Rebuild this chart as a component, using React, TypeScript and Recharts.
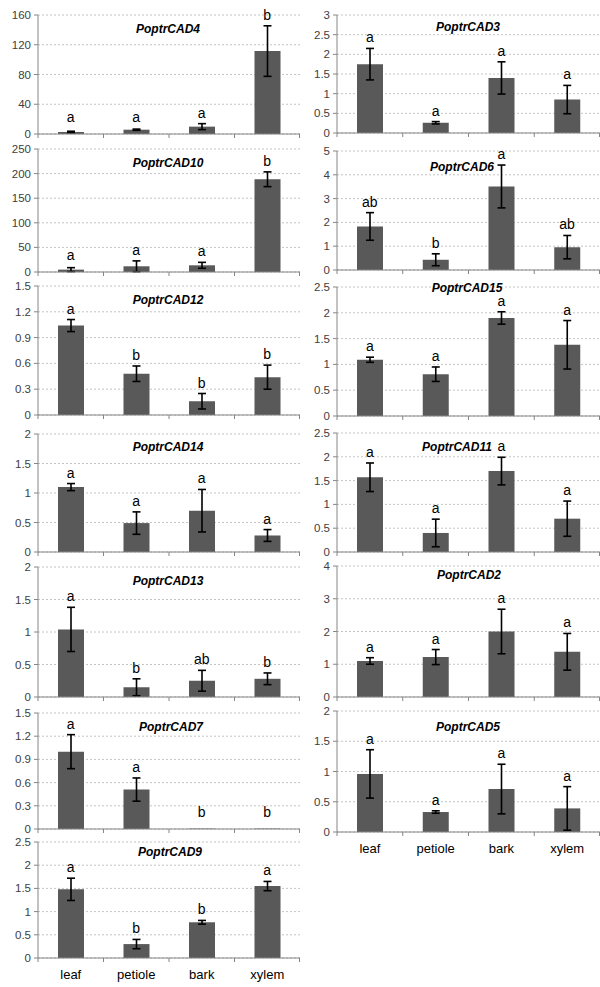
import {
  ComposedChart,
  Bar,
  Line,
  XAxis,
  YAxis,
  CartesianGrid,
  ErrorBar,
  LabelList,
} from "recharts";

const categories = ["leaf", "petiole", "bark", "xylem"];

const cad4Values = [2.7, 5.8, 9.9, 111.5];
const cad4Errors = [1, 0.8, 4, 34];
const cad4Letters = ["a", "a", "a", "b"];
const cad4Ticks = [0, 40, 80, 120, 160];

const cad10Values = [4.8, 11.6, 13.6, 188.5];
const cad10Errors = [4, 11, 6, 15];
const cad10Letters = ["a", "a", "a", "b"];
const cad10Ticks = [0, 50, 100, 150, 200, 250];

const cad12Values = [1.04, 0.48, 0.16, 0.44];
const cad12Errors = [0.07, 0.09, 0.09, 0.14];
const cad12Letters = ["a", "b", "b", "b"];
const cad12Ticks = [0, 0.3, 0.6, 0.9, 1.2, 1.5];

const cad14Values = [1.1, 0.49, 0.7, 0.28];
const cad14Errors = [0.06, 0.19, 0.36, 0.1];
const cad14Letters = ["a", "a", "a", "a"];
const cad14Ticks = [0, 0.5, 1, 1.5, 2];

const cad13Values = [1.04, 0.15, 0.25, 0.28];
const cad13Errors = [0.34, 0.13, 0.16, 0.09];
const cad13Letters = ["a", "b", "ab", "b"];
const cad13Ticks = [0, 0.5, 1, 1.5, 2];

const cad7Values = [1.0, 0.51, 0.005, 0.005];
const cad7Errors = [0.22, 0.15, 0, 0];
const cad7Letters = ["a", "a", "b", "b"];
const cad7Ticks = [0, 0.3, 0.6, 0.9, 1.2, 1.5];

const cad9Values = [1.48, 0.3, 0.77, 1.55];
const cad9Errors = [0.24, 0.1, 0.04, 0.1];
const cad9Letters = ["a", "b", "b", "a"];
const cad9Ticks = [0, 0.5, 1, 1.5, 2, 2.5];

const cad3Values = [1.75, 0.26, 1.4, 0.85];
const cad3Errors = [0.4, 0.03, 0.41, 0.36];
const cad3Letters = ["a", "a", "a", "a"];
const cad3Ticks = [0, 0.5, 1, 1.5, 2, 2.5, 3];

const cad6Values = [1.83, 0.43, 3.51, 0.96];
const cad6Errors = [0.58, 0.25, 0.9, 0.49];
const cad6Letters = ["ab", "b", "a", "ab"];
const cad6Ticks = [0, 1, 2, 3, 4, 5];

const cad15Values = [1.09, 0.81, 1.9, 1.38];
const cad15Errors = [0.05, 0.14, 0.12, 0.47];
const cad15Letters = ["a", "a", "a", "a"];
const cad15Ticks = [0, 0.5, 1, 1.5, 2, 2.5];

const cad11Values = [1.57, 0.4, 1.7, 0.7];
const cad11Errors = [0.3, 0.29, 0.29, 0.37];
const cad11Letters = ["a", "a", "a", "a"];
const cad11Ticks = [0, 0.5, 1, 1.5, 2, 2.5];

const cad2Values = [1.1, 1.22, 2.0, 1.38];
const cad2Errors = [0.1, 0.23, 0.68, 0.56];
const cad2Letters = ["a", "a", "a", "a"];
const cad2Ticks = [0, 1, 2, 3, 4];

const cad5Values = [0.96, 0.33, 0.71, 0.39];
const cad5Errors = [0.4, 0.02, 0.41, 0.36];
const cad5Letters = ["a", "a", "a", "a"];
const cad5Ticks = [0, 0.5, 1, 1.5, 2];

// page layout: column, plot top/bottom (px), title centre
const panels = [
  { name: "PoptrCAD4", v: cad4Values, e: cad4Errors, l: cad4Letters, t: cad4Ticks, col: 0, top: 15, bottom: 134, tx: 168, ty: 29 },
  { name: "PoptrCAD10", v: cad10Values, e: cad10Errors, l: cad10Letters, t: cad10Ticks, col: 0, top: 149, bottom: 272, tx: 168, ty: 163 },
  { name: "PoptrCAD12", v: cad12Values, e: cad12Errors, l: cad12Letters, t: cad12Ticks, col: 0, top: 286, bottom: 415, tx: 168, ty: 300 },
  { name: "PoptrCAD14", v: cad14Values, e: cad14Errors, l: cad14Letters, t: cad14Ticks, col: 0, top: 434, bottom: 552, tx: 168, ty: 447 },
  { name: "PoptrCAD13", v: cad13Values, e: cad13Errors, l: cad13Letters, t: cad13Ticks, col: 0, top: 567, bottom: 697, tx: 168, ty: 581 },
  { name: "PoptrCAD7", v: cad7Values, e: cad7Errors, l: cad7Letters, t: cad7Ticks, col: 0, top: 713, bottom: 829, tx: 171, ty: 727 },
  { name: "PoptrCAD9", v: cad9Values, e: cad9Errors, l: cad9Letters, t: cad9Ticks, col: 0, top: 842, bottom: 958, tx: 170, ty: 852, labels: true },
  { name: "PoptrCAD3", v: cad3Values, e: cad3Errors, l: cad3Letters, t: cad3Ticks, col: 1, top: 15, bottom: 133, tx: 468, ty: 27 },
  { name: "PoptrCAD6", v: cad6Values, e: cad6Errors, l: cad6Letters, t: cad6Ticks, col: 1, top: 151, bottom: 270, tx: 462, ty: 167 },
  { name: "PoptrCAD15", v: cad15Values, e: cad15Errors, l: cad15Letters, t: cad15Ticks, col: 1, top: 287, bottom: 416, tx: 467, ty: 288 },
  { name: "PoptrCAD11", v: cad11Values, e: cad11Errors, l: cad11Letters, t: cad11Ticks, col: 1, top: 433, bottom: 552, tx: 457, ty: 447 },
  { name: "PoptrCAD2", v: cad2Values, e: cad2Errors, l: cad2Letters, t: cad2Ticks, col: 1, top: 566, bottom: 697, tx: 469, ty: 575 },
  { name: "PoptrCAD5", v: cad5Values, e: cad5Errors, l: cad5Letters, t: cad5Ticks, col: 1, top: 711, bottom: 832, tx: 468, ty: 727, labels: true },
];

const AXIS = "#868686";
const TEXT = "#404040";
const PAD = 10;

const Panel = ({ p }: { p: any }) => {
  const yw = p.col === 0 ? 38 : 37;
  const plotH = p.bottom - p.top;
  const xh = p.labels ? 30 : 6;
  const bw = (300 - yw) / 4;
  const rows = categories.map((c, i) => ({
    name: c,
    value: p.v[i],
    err: p.e[i],
    sig: p.l[i],
  }));
  const plotBottom = PAD + plotH;

  const xTick = (props: any) => {
    const { x, y, payload, index } = props;
    return (
      <g>
        <line x1={x - bw / 2} x2={x - bw / 2} y1={y} y2={y + 4} stroke={AXIS} />
        {index === 3 && (
          <line x1={x + bw / 2 - 0.5} x2={x + bw / 2 - 0.5} y1={y} y2={y + 4} stroke={AXIS} />
        )}
        {p.labels && (
          <text x={x} y={y + 21} textAnchor="middle" fontSize={13} fill="#000">
            {payload.value}
          </text>
        )}
      </g>
    );
  };

  const letter = (props: any) => {
    const vb = props.viewBox || {};
    const x = props.x ?? vb.x;
    const y = props.y ?? vb.y;
    const ty = Math.min(y - 6, plotBottom - 12);
    return (
      <text x={x} y={ty} textAnchor="middle" fontSize={14} fill="#000">
        {props.value}
      </text>
    );
  };

  return (
    <div style={{ position: "absolute", left: p.col * 300, top: p.top - PAD }}>
      <ComposedChart
        width={300}
        height={PAD + plotH + xh}
        data={rows}
        margin={{ top: PAD, right: 0, bottom: 0, left: 0 }}
        barSize={26}
      >
        <CartesianGrid vertical={false} stroke="#c4c4c4" strokeDasharray="2 2" />
        <XAxis
          dataKey="name"
          height={xh}
          interval={0}
          axisLine={{ stroke: AXIS }}
          tickLine={false}
          tickSize={0}
          tickMargin={0}
          tick={xTick}
        />
        <YAxis
          width={yw}
          domain={[0, p.t[p.t.length - 1]]}
          ticks={p.t}
          interval={0}
          allowDataOverflow
          axisLine={{ stroke: AXIS }}
          tickLine={{ stroke: AXIS }}
          tickSize={4}
          tickMargin={3}
          tick={{ fontSize: 11.5, fill: TEXT }}
        />
        <Bar dataKey="value" fill="#595959" isAnimationActive={false}>
          <ErrorBar dataKey="err" width={4} strokeWidth={1.6} stroke="#000" />
        </Bar>
        <Line
          dataKey={(d: any) => d.value + d.err}
          stroke="none"
          dot={false}
          activeDot={false}
          isAnimationActive={false}
        >
          <LabelList dataKey="sig" content={letter} />
        </Line>
      </ComposedChart>
    </div>
  );
};

export default function App() {
  return (
    <div
      style={{
        position: "absolute",
        left: 0,
        top: 0,
        width: 600,
        height: 987,
        background: "#fff",
        fontFamily: "'Liberation Sans', Arial, sans-serif",
      }}
    >
      {panels.map((p) => (
        <Panel key={p.name} p={p} />
      ))}
      {panels.map((p) => (
        <div
          key={p.name + "-title"}
          style={{
            position: "absolute",
            left: p.tx,
            top: p.ty - 8,
            transform: "translateX(-50%)",
            fontSize: 12,
            fontWeight: "bold",
            fontStyle: "italic",
            lineHeight: "16px",
            whiteSpace: "nowrap",
            color: "#000",
          }}
        >
          {p.name}
        </div>
      ))}
    </div>
  );
}
